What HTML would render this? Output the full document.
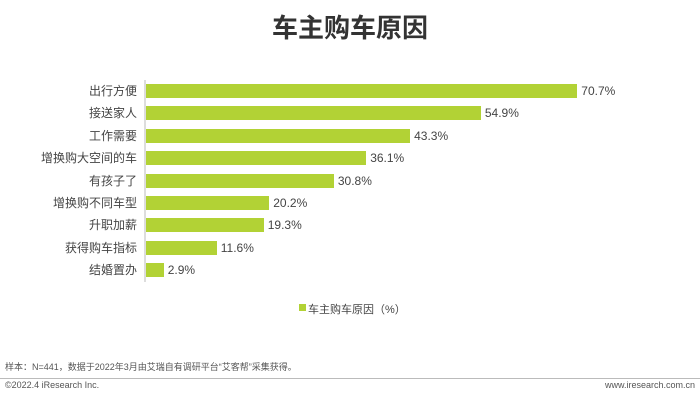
<html><head><style>
body{margin:0;width:700px;height:401px;background:#fff;font-family:"Liberation Sans","Noto Sans CJK SC",sans-serif;position:relative;overflow:hidden}
.t{position:absolute;left:0;width:700px;text-align:center;top:8px;font-size:26px;font-weight:bold;color:#333}
.l{position:absolute;right:563px;font-size:12px;color:#444;line-height:14px;white-space:nowrap}
.b{position:absolute;left:146px;height:14px;background:#b2d235}
.v{position:absolute;font-size:12px;color:#444;line-height:14px}
.ax{position:absolute;left:144px;top:80px;width:1.5px;height:202px;background:#ddd}
</style></head><body>
<div class="t">车主购车原因</div>
<div class="ax"></div>
<div id="c"></div>
<div style="position:absolute;left:299px;top:304px;width:7px;height:7px;background:#b2d235"></div>
<div style="position:absolute;left:308px;top:301px;font-size:11px;color:#444">车主购车原因（%）</div>
<div style="position:absolute;left:5px;top:360px;font-size:9px;color:#555">样本：N=441，数据于2022年3月由艾瑞自有调研平台“艾客帮”采集获得。</div>
<div style="position:absolute;left:0;top:378px;width:700px;height:1px;background:#bbb"></div>
<div style="position:absolute;left:5px;top:380px;font-size:9px;color:#555">©2022.4 iResearch Inc.</div>
<div style="position:absolute;right:5px;top:380px;font-size:9px;color:#555">www.iresearch.com.cn</div>
<script>
var d=[["出行方便",70.7],["接送家人",54.9],["工作需要",43.3],["增换购大空间的车",36.1],["有孩子了",30.8],["增换购不同车型",20.2],["升职加薪",19.3],["获得购车指标",11.6],["结婚置办",2.9]];
var h="";d.forEach(function(r,i){var y=84+i*22.4,w=r[1]*6.1;
h+='<div class="l" style="top:'+y+'px">'+r[0]+'</div><div class="b" style="top:'+y+'px;width:'+w+'px"></div><div class="v" style="top:'+y+'px;left:'+(150+w)+'px">'+r[1].toFixed(1)+'%</div>';});
document.getElementById("c").innerHTML=h;
</script>
</body></html>
